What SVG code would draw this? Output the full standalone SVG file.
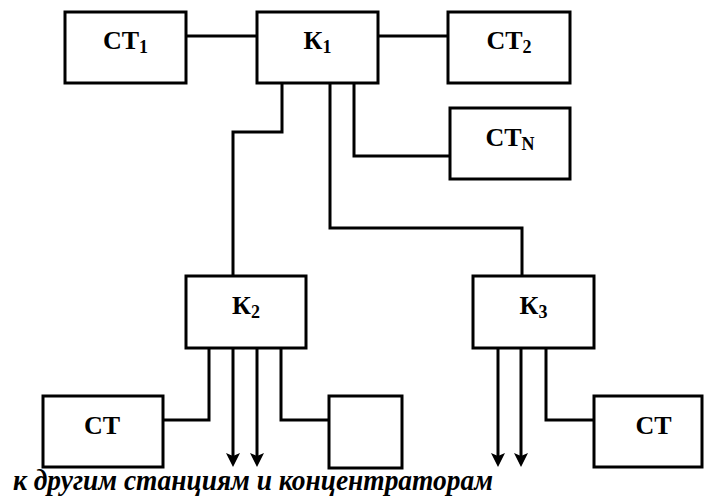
<svg xmlns="http://www.w3.org/2000/svg" width="705" height="499" viewBox="0 0 705 499">
<style>
.box{fill:#fff;stroke:#000;stroke-width:3}
.conn{fill:none;stroke:#000;stroke-width:3}
</style>
<defs>
<marker id="arr" viewBox="0 0 14 14" markerUnits="userSpaceOnUse" markerWidth="14" markerHeight="15" refX="7" refY="7" orient="auto">
<path d="M0,0 L14,7 L0,14 L3,7 z" fill="#000"/>
</marker>
</defs>
<rect width="705" height="499" fill="#fff"/>
<g id="connectors">
<path class="conn" d="M186,36 H257"/>
<path class="conn" d="M378,36 H448"/>
<path class="conn" d="M282,83 V132 H233 V276"/>
<path class="conn" d="M330,83 V228 H522 V276"/>
<path class="conn" d="M354,83 V156 H450"/>
<path class="conn" d="M209,348 V420 H163"/>
<path class="conn" d="M233,348 V460" marker-end="url(#arr)"/>
<path class="conn" d="M257,348 V460" marker-end="url(#arr)"/>
<path class="conn" d="M281,348 V420 H329"/>
<path class="conn" d="M498,348 V460" marker-end="url(#arr)"/>
<path class="conn" d="M521,348 V460" marker-end="url(#arr)"/>
<path class="conn" d="M546,348 V420 H594"/>
</g>
<g id="ct1"><rect class="box" x="65" y="12" width="121" height="71"/><text x="125.5" y="49" font-family="Liberation Serif" font-weight="bold" font-size="26" text-anchor="middle">СТ<tspan font-size="18" dy="4">1</tspan></text></g>
<g id="k1"><rect class="box" x="257" y="12" width="121" height="71"/><text x="317.5" y="49" font-family="Liberation Serif" font-weight="bold" font-size="26" text-anchor="middle">К<tspan font-size="18" dy="4">1</tspan></text></g>
<g id="ct2"><rect class="box" x="448" y="12" width="122" height="71"/><text x="509" y="49" font-family="Liberation Serif" font-weight="bold" font-size="26" text-anchor="middle">СТ<tspan font-size="18" dy="4">2</tspan></text></g>
<g id="ctn"><rect class="box" x="450" y="108" width="120" height="71"/><text x="510" y="146" font-family="Liberation Serif" font-weight="bold" font-size="26" text-anchor="middle">СТ<tspan font-size="18" dy="4">N</tspan></text></g>
<g id="k2"><rect class="box" x="186" y="276" width="120" height="72"/><text x="246" y="314" font-family="Liberation Serif" font-weight="bold" font-size="26" text-anchor="middle">К<tspan font-size="18" dy="4">2</tspan></text></g>
<g id="k3"><rect class="box" x="473" y="276" width="121" height="72"/><text x="533.5" y="314" font-family="Liberation Serif" font-weight="bold" font-size="26" text-anchor="middle">К<tspan font-size="18" dy="4">3</tspan></text></g>
<g id="ct-left"><rect class="box" x="43" y="396" width="120" height="71"/><text x="102" y="434" font-family="Liberation Serif" font-weight="bold" font-size="26" text-anchor="middle">СТ</text></g>
<g id="box-empty"><rect class="box" x="329" y="396" width="73" height="72"/></g>
<g id="ct-right"><rect class="box" x="594" y="396" width="108" height="71"/><text x="653.5" y="434" font-family="Liberation Serif" font-weight="bold" font-size="26" text-anchor="middle">СТ</text></g>
<text x="13" y="490" font-family="Liberation Serif" font-weight="bold" font-style="italic" font-size="29" textLength="480" lengthAdjust="spacingAndGlyphs">к другим станциям и концентраторам</text>
</svg>
